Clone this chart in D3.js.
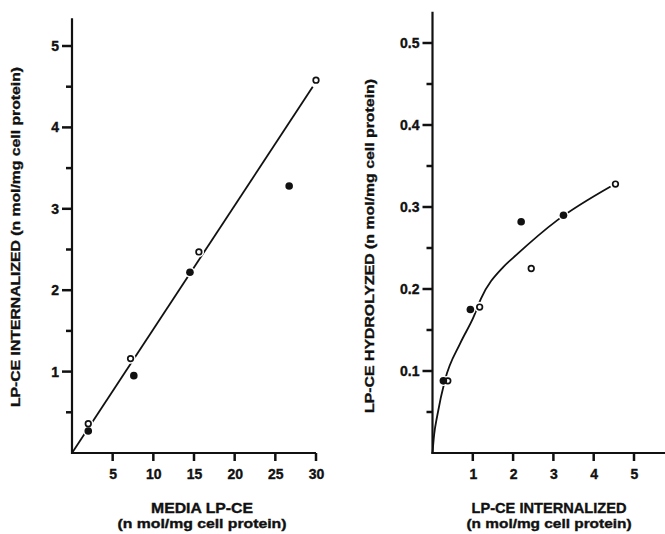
<!DOCTYPE html>
<html>
<head>
<meta charset="utf-8">
<script src="https://cdnjs.cloudflare.com/ajax/libs/d3/7.8.5/d3.min.js"></script>
<style>
  html, body { margin: 0; padding: 0; background: #fff; }
  svg { display: block; }
  text { font-family: "Liberation Sans", Arial, Helvetica, sans-serif; font-weight: bold; fill: #111; stroke: #111; stroke-width: 0.35px; }
</style>
</head>
<body>
<svg width="665" height="534"></svg>
<script>
// left panel: media LP-CE vs LP-CE internalized
const mediaOpen = [2.0, 7.2, 15.6, 30.0];
const internOpen = [0.36, 1.16, 2.47, 4.58];
const mediaFilled = [2.0, 7.6, 14.5, 26.7];
const internFilled = [0.27, 0.95, 2.22, 3.28];
const fitMedia = [0, 29.6];
const fitIntern = [0, 4.5];

// right panel: internalized vs hydrolyzed
const intOpen = [0.38, 1.17, 2.45, 4.54];
const hydOpen = [0.088, 0.178, 0.225, 0.328];
const intFilled = [0.27, 0.94, 2.2, 3.25];
const hydFilled = [0.088, 0.175, 0.282, 0.29];
const curveInt = [0, 0.04, 0.12, 0.31, 0.69, 1.02, 1.2, 1.76, 2.0, 3.1, 4.42];
const curveHyd = [0, 0.022, 0.046, 0.089, 0.134, 0.166, 0.188, 0.227, 0.238, 0.284, 0.325];

const leftXTicks = [5, 10, 15, 20, 25, 30];
const leftYTicks = [1, 2, 3, 4, 5];
const leftYMinor = [0.5, 1.5, 2.5, 3.5, 4.5];
const rightXTicks = [1, 2, 3, 4, 5];
const rightYTicks = [0.1, 0.2, 0.3, 0.4, 0.5];
const rightYMinor = [0.05, 0.15, 0.25, 0.35, 0.45];

const svg = d3.select("svg");
const ink = "#111";

function panel(cfg) {
    const g = svg.append("g");
    const x = d3.scaleLinear().domain(cfg.xDomain).range(cfg.xRange);
    const y = d3.scaleLinear().domain(cfg.yDomain).range(cfg.yRange);
    const x0 = x(0), y0 = y(0);

    // axis lines drawn by hand so they can run past the last tick
    g.append("line")
        .attr("x1", x0).attr("x2", x0)
        .attr("y1", y0 + 1).attr("y2", y(cfg.yTop))
        .attr("stroke", ink).attr("stroke-width", 2.2);
    g.append("line")
        .attr("x1", x0 - 1).attr("x2", x(cfg.xRight))
        .attr("y1", y0).attr("y2", y0)
        .attr("stroke", ink).attr("stroke-width", 2.2);

    // tick labels from d3 axes
    const yAxis = g.append("g")
        .attr("transform", `translate(${x0},0)`)
        .call(d3.axisLeft(y).tickValues(cfg.yTicks).tickSize(9).tickPadding(4)
            .tickFormat(cfg.yFormat));
    const xAxis = g.append("g")
        .attr("transform", `translate(0,${y0})`)
        .call(d3.axisBottom(x).tickValues(cfg.xTicks).tickSize(7).tickPadding(9)
            .tickFormat(d3.format("d")));
    [yAxis, xAxis].forEach(a => {
        a.select(".domain").remove();
        a.selectAll(".tick line").remove();
        a.selectAll("text").style("font-size", "14px");
    });

    // tick marks
    g.selectAll(".ymaj").data(cfg.yTicks).join("line")
        .attr("x1", x0 - 10).attr("x2", x0)
        .attr("y1", d => y(d)).attr("y2", d => y(d))
        .attr("stroke", ink).attr("stroke-width", 2.5);
    g.selectAll(".ymin").data(cfg.yMinor).join("line")
        .attr("x1", x0 - 6).attr("x2", x0)
        .attr("y1", d => y(d)).attr("y2", d => y(d))
        .attr("stroke", ink).attr("stroke-width", 2.5);
    g.selectAll(".xmaj").data(cfg.xTicks).join("line")
        .attr("x1", d => x(d)).attr("x2", d => x(d))
        .attr("y1", y0).attr("y2", y0 + 8)
        .attr("stroke", ink).attr("stroke-width", 2.5);

    // fitted line
    const pts = cfg.lineX.map((v, i) => [v, cfg.lineY[i]]);
    g.append("path")
        .datum(pts)
        .attr("fill", "none")
        .attr("stroke", ink)
        .attr("stroke-width", 1.8)
        .attr("d", d3.line().x(d => x(d[0])).y(d => y(d[1])).curve(cfg.curve));

    const open = cfg.openX.map((v, i) => [v, cfg.openY[i]]);
    const filled = cfg.filledX.map((v, i) => [v, cfg.filledY[i]]);

    // white halos to break the line where it meets a symbol
    g.selectAll(".halo")
        .data(open.concat(filled))
        .join("circle")
        .attr("cx", d => x(d[0])).attr("cy", d => y(d[1]))
        .attr("r", 5.2).attr("fill", "#fff");

    g.selectAll(".open")
        .data(open)
        .join("circle")
        .attr("cx", d => x(d[0])).attr("cy", d => y(d[1]))
        .attr("r", 2.8).attr("fill", "#fff")
        .attr("stroke", ink).attr("stroke-width", 1.7);

    g.selectAll(".filled")
        .data(filled)
        .join("circle")
        .attr("cx", d => x(d[0])).attr("cy", d => y(d[1]))
        .attr("r", 3.8).attr("fill", ink);

    // axis titles
    g.append("text")
        .attr("transform", `translate(${cfg.yLabelX},${cfg.yLabelY}) rotate(-90)`)
        .attr("text-anchor", "middle")
        .attr("dy", "0.35em")
        .attr("textLength", cfg.yLabelLen)
        .attr("lengthAdjust", "spacingAndGlyphs")
        .style("font-size", "13px")
        .text(cfg.yLabel);
    g.append("text")
        .attr("x", cfg.xLabelX).attr("y", 513)
        .attr("text-anchor", "middle")
        .attr("textLength", cfg.xLabelLen)
        .attr("lengthAdjust", "spacingAndGlyphs")
        .style("font-size", "14px")
        .text(cfg.xLabel);
    g.append("text")
        .attr("x", cfg.xLabelX).attr("y", 528)
        .attr("text-anchor", "middle")
        .attr("textLength", cfg.unitLen)
        .attr("lengthAdjust", "spacingAndGlyphs")
        .style("font-size", "12px")
        .text("(n mol/mg cell protein)");
}

panel({
    xDomain: [0, 30], xRange: [72, 316], xRight: 30,
    yDomain: [0, 5], yRange: [453, 46], yTop: 5.34,
    xTicks: leftXTicks, yTicks: leftYTicks, yMinor: leftYMinor,
    yFormat: d3.format("d"),
    lineX: fitMedia, lineY: fitIntern, curve: d3.curveLinear,
    openX: mediaOpen, openY: internOpen,
    filledX: mediaFilled, filledY: internFilled,
    yLabel: "LP-CE INTERNALIZED (n mol/mg cell protein)",
    yLabelX: 15, yLabelY: 237, yLabelLen: 340,
    xLabel: "MEDIA LP-CE", xLabelX: 202, xLabelLen: 102, unitLen: 169
});

panel({
    xDomain: [0, 5], xRange: [432.5, 634], xRight: 5.9,
    yDomain: [0, 0.5], yRange: [453, 43], yTop: 0.538,
    xTicks: rightXTicks, yTicks: rightYTicks, yMinor: rightYMinor,
    yFormat: d3.format(".1f"),
    lineX: curveInt, lineY: curveHyd, curve: d3.curveMonotoneX,
    openX: intOpen, openY: hydOpen,
    filledX: intFilled, filledY: hydFilled,
    yLabel: "LP-CE HYDROLYZED (n mol/mg cell protein)",
    yLabelX: 369, yLabelY: 246, yLabelLen: 334,
    xLabel: "LP-CE INTERNALIZED", xLabelX: 549, xLabelLen: 155, unitLen: 165
});
</script>
</body>
</html>
